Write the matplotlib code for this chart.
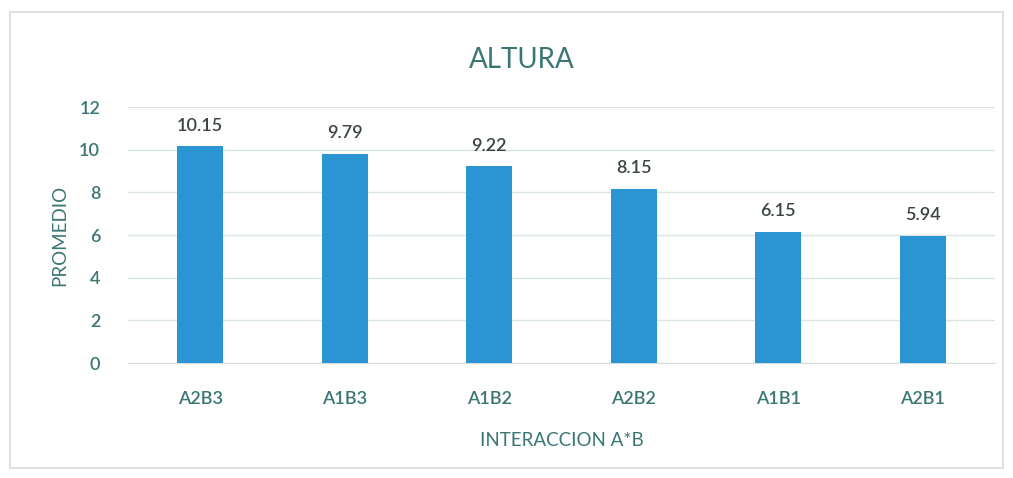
import matplotlib
matplotlib.use("Agg")
import matplotlib.pyplot as plt
from matplotlib.patches import Rectangle

categories = ["A2B3", "A1B3", "A1B2", "A2B2", "A1B1", "A2B1"]
values = [10.15, 9.79, 9.22, 8.15, 6.15, 5.94]
labels = ["10.15", "9.79", "9.22", "8.15", "6.15", "5.94"]
yticks = [0, 2, 4, 6, 8, 10, 12]

plt.rcParams['font.family'] = ['Lato', 'DejaVu Sans']
teal = "#3a7674"
bar_color = "#2b95d3"

fig = plt.figure(figsize=(10.13, 4.78), dpi=100)
fig.patches.append(Rectangle((10/1013, 1-468/478), 993/1013, 456/478,
                             transform=fig.transFigure, fill=False,
                             edgecolor="#d5dedb", linewidth=1.2))
ax = fig.add_axes([128/1013, 1-363/478, 867/1013, 256/478])
x = range(len(categories))
bars = ax.bar(x, values, width=0.32, color=bar_color, zorder=3)
for xi, v, lab in zip(x, values, labels):
    ax.text(xi, v + 0.6, lab, ha="center", va="bottom", fontsize=13,
            color="#3a4543", fontweight="semibold")
ax.set_xlim(-0.5, len(categories) - 0.5)
ax.set_ylim(0, 12)
ax.set_yticks(yticks)
ax.set_yticklabels([str(t) for t in yticks], fontsize=13, color=teal, fontweight="semibold")
ax.set_xticks(list(x))
ax.set_xticklabels(categories, fontsize=13, color=teal, fontweight="semibold")
ax.tick_params(length=0, pad=20)
ax.tick_params(axis='y', pad=20)
ax.grid(axis='y', color="#dbe5e3", linewidth=1, zorder=0)
for s in ["top", "right", "left"]:
    ax.spines[s].set_visible(False)
ax.spines["bottom"].set_color("#d5dedb")
ax.set_xlabel("INTERACCION A*B", fontsize=13.5, color=teal, labelpad=18)
ax.set_ylabel("PROMEDIO", fontsize=13.5, color=teal, labelpad=8)
fig.text(522/1013, 1-60/478, "ALTURA", ha="center", va="center", fontsize=20, color=teal)
fig.savefig("out.png", dpi=100)
